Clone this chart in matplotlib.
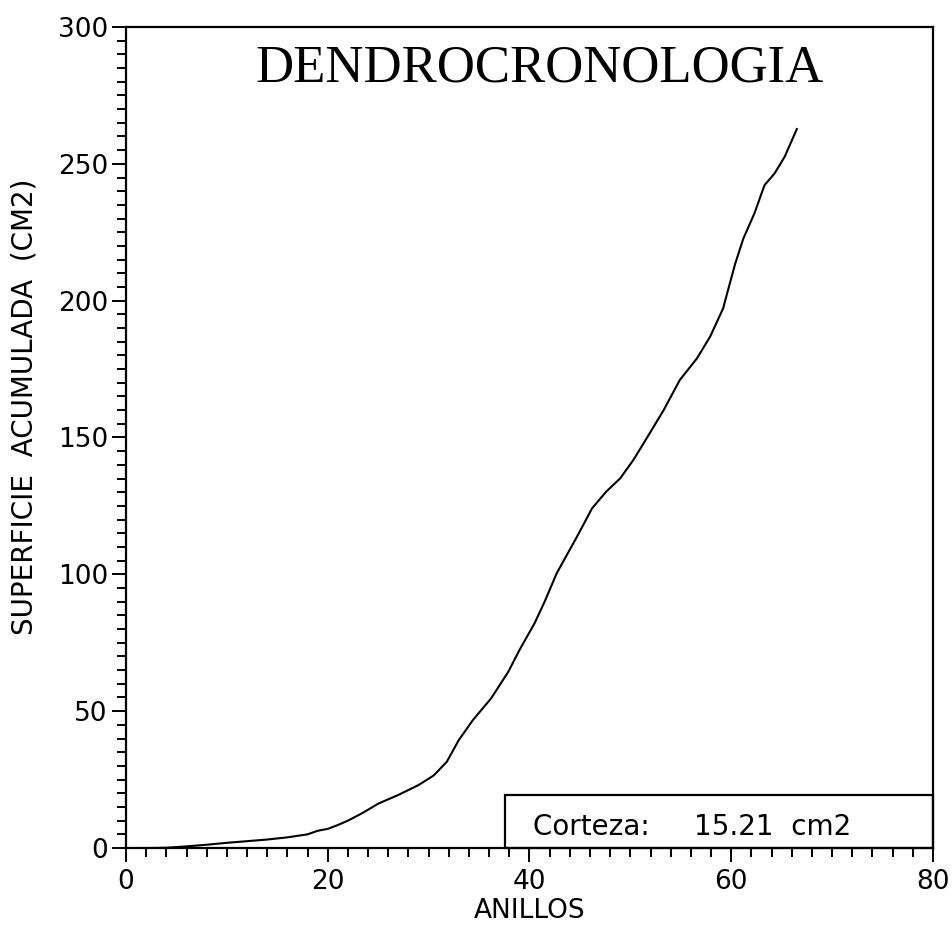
import matplotlib.pyplot as plt
from matplotlib.patches import Rectangle
from matplotlib.ticker import MultipleLocator

# ring number vs accumulated area (cm2)
anillos = [1, 2, 4, 6, 8, 10, 12, 14, 16, 18, 19, 20, 21, 22, 23.5, 25, 27, 29,
           30.5, 31.8, 33, 34.4, 36.2, 37.9, 39, 40.5, 41.5, 42.7, 44.7, 46.2,
           47.6, 49, 50.3, 51.4, 53.3, 54.9, 56.6, 57.9, 59.2, 59.5, 60.4, 61.2,
           62.3, 63.3, 64.3, 65.3, 66.5]
superficie = [0, 0, 0.1, 0.6, 1.2, 1.9, 2.5, 3.1, 3.9, 5.0, 6.3, 7.0, 8.4, 10.0,
              12.9, 16.2, 19.4, 23.0, 26.5, 31.5, 39.5, 46.8, 54.7, 64.4, 72.3,
              82.1, 90.0, 100.4, 113.7, 124.1, 130.2, 135.1, 141.8, 148.4, 160.0,
              171.0, 178.9, 186.8, 197.2, 201.4, 213.6, 222.7, 231.9, 242.2,
              246.5, 252.6, 262.7]

titulo = "DENDROCRONOLOGIA"
corteza = 15.21
caja_x0, caja_y1 = 37.6, 19.4

fig = plt.figure(figsize=(9.53, 9.27), dpi=100)
ax = fig.add_axes([0.1322, 0.0852, 0.979 - 0.1322, 0.9709 - 0.0852])

ax.plot(anillos, superficie, color="black", lw=1.5)

ax.set_xlim(0, 80)
ax.set_ylim(0, 300)
ax.xaxis.set_major_locator(MultipleLocator(20))
ax.xaxis.set_minor_locator(MultipleLocator(2))
ax.yaxis.set_major_locator(MultipleLocator(50))
ax.yaxis.set_minor_locator(MultipleLocator(5))
ax.tick_params(which="major", direction="out", length=10, width=1.4,
               labelsize=19, pad=3)
ax.tick_params(axis="x", which="major", pad=5)
ax.tick_params(which="minor", direction="out", length=6.5, width=1.4)
for s in ax.spines.values():
    s.set_linewidth(1.6)

ax.set_xlabel("ANILLOS", fontsize=19, labelpad=2)
ax.set_ylabel("SUPERFICIE  ACUMULADA  (CM2)", fontsize=20)
ax.yaxis.set_label_coords(-0.108, 0.537)

ax.text(41, 285, titulo, family="Liberation Serif", fontsize=38,
        ha="center", va="center")

# bark box, lower right
ax.add_patch(Rectangle((caja_x0, 0), 80 - caja_x0, caja_y1, fill=False,
                       lw=1.6, edgecolor="black", clip_on=False))
ax.text(40.3, 7.7, "Corteza:     %.2f  cm2" % corteza, fontsize=20,
        ha="left", va="center")

fig.savefig("out.png", dpi=100)
